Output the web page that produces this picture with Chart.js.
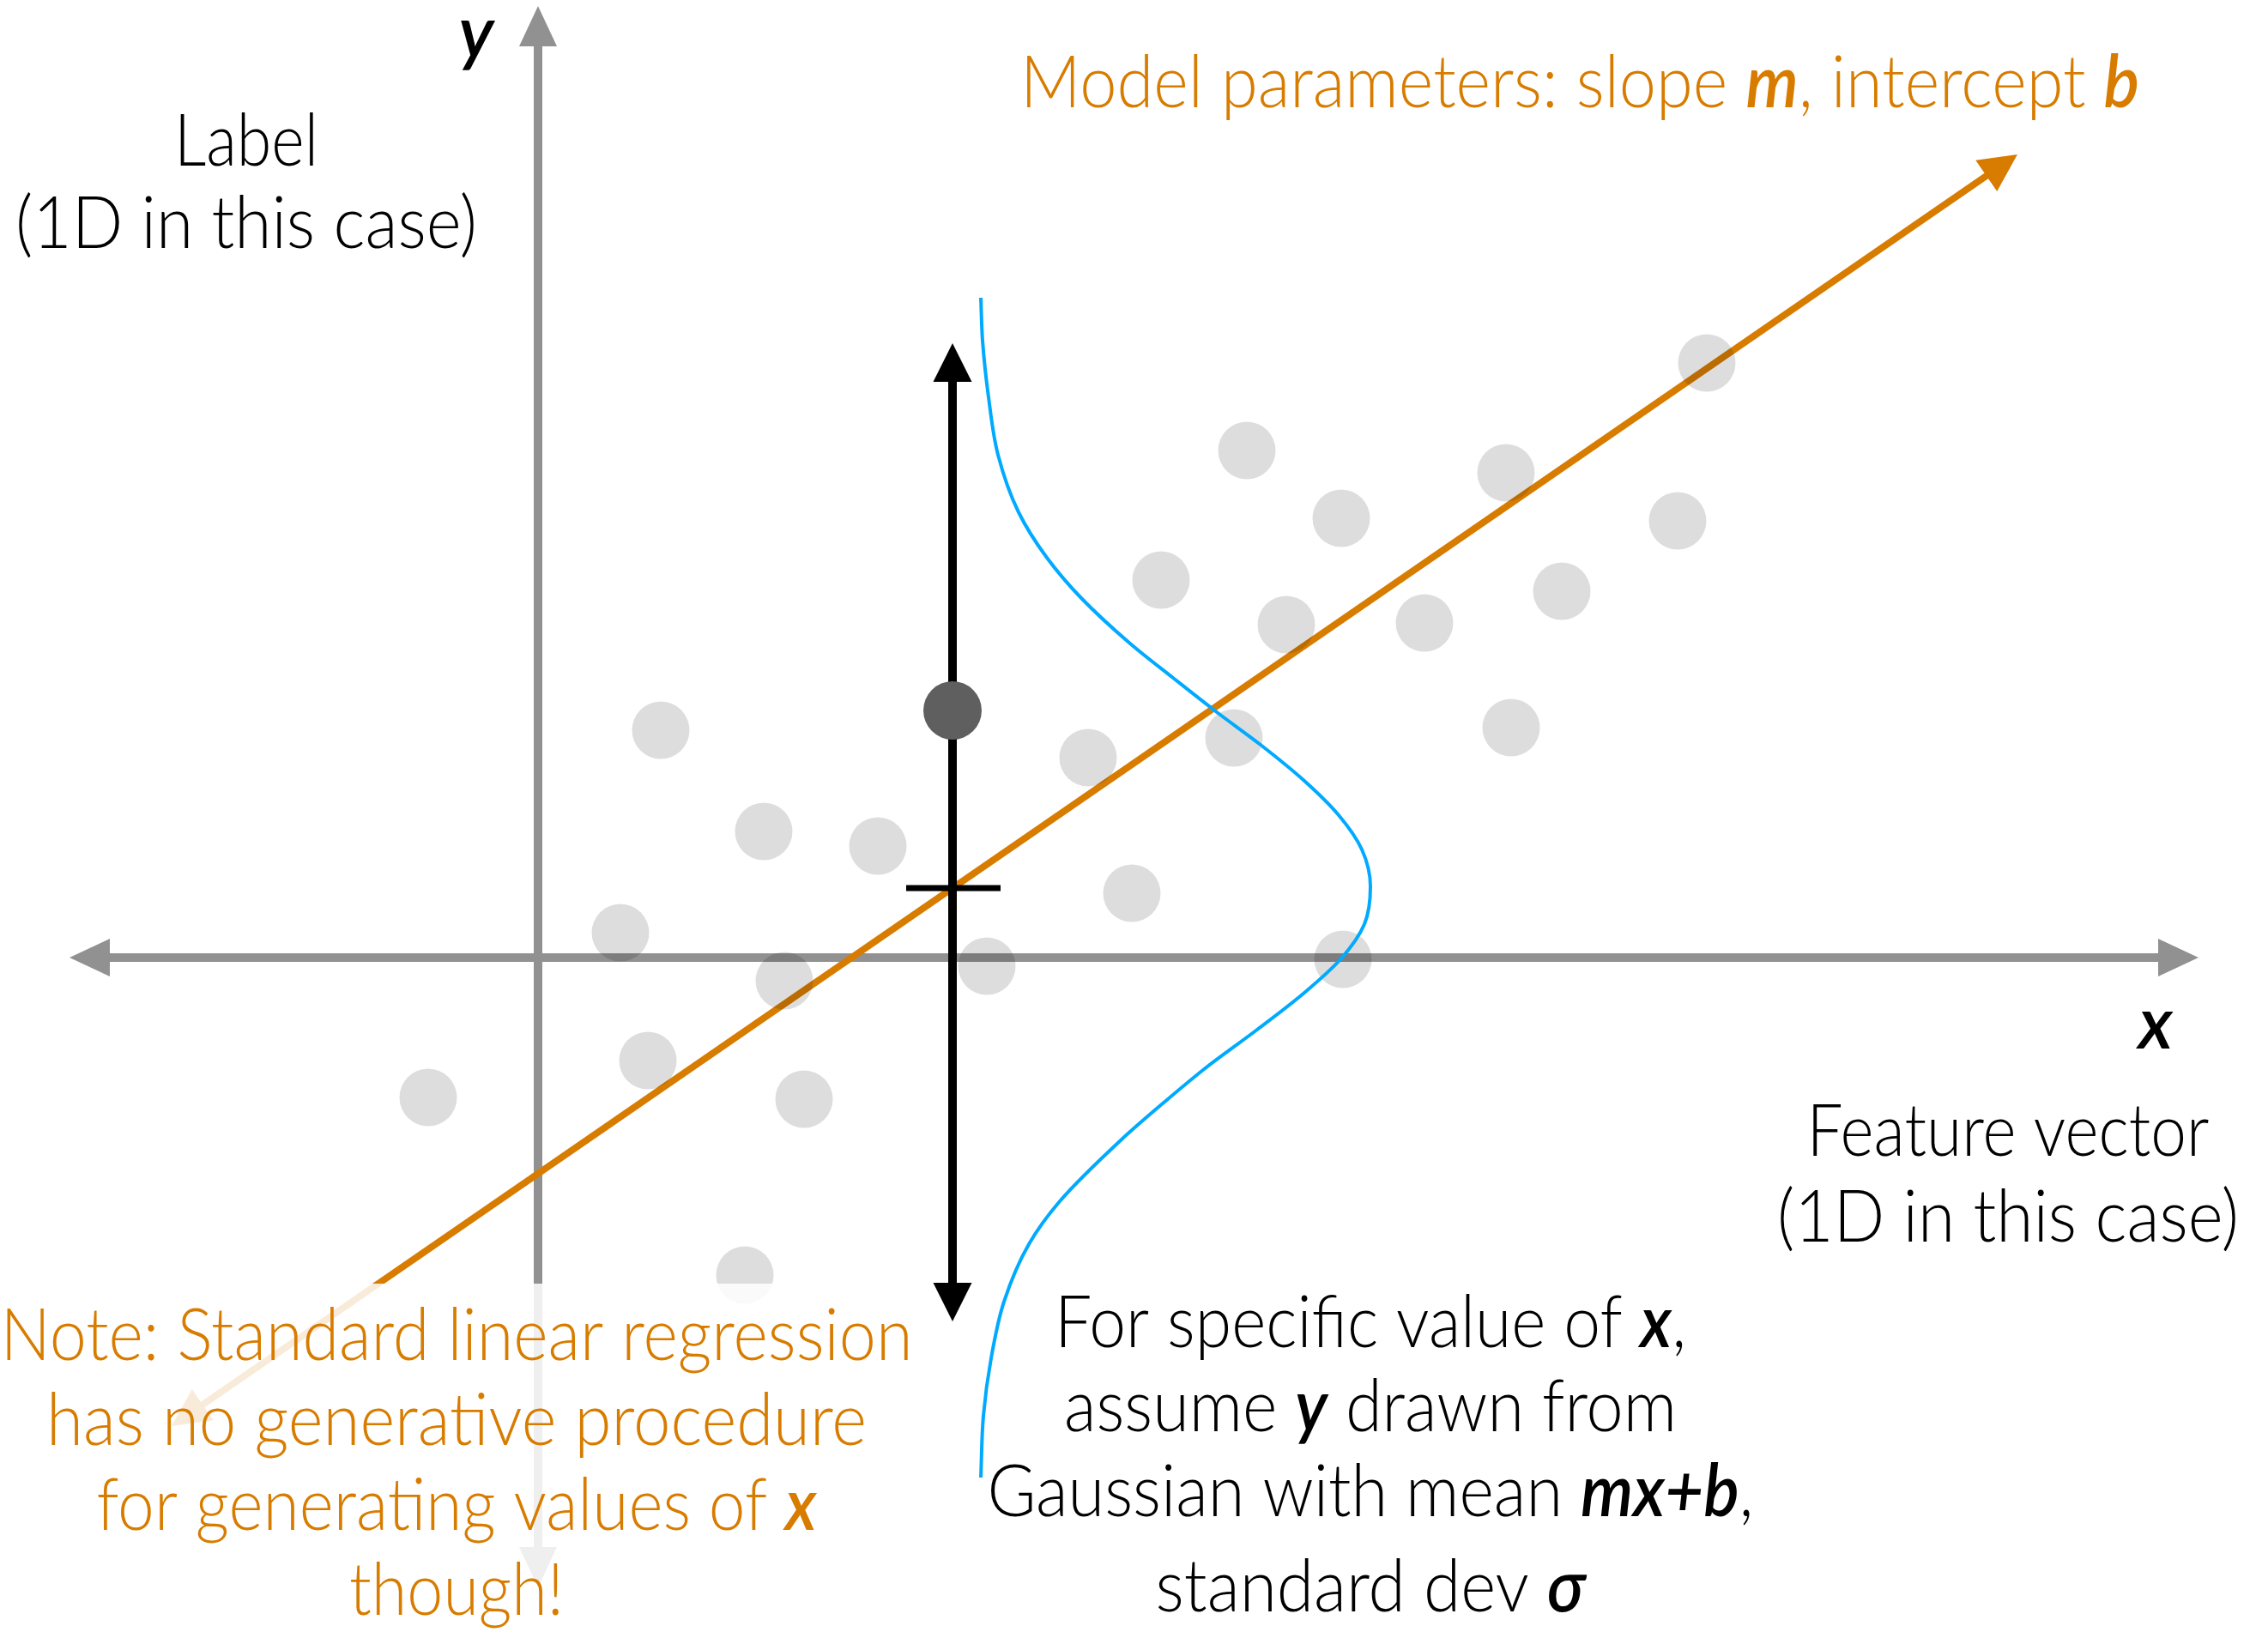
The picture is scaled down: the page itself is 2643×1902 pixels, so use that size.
<!DOCTYPE html>
<html>
<head>
<meta charset="utf-8">
<script src="https://cdn.jsdelivr.net/npm/chart.js@4.4.1/dist/chart.umd.min.js"></script>
<style>
html,body{margin:0;padding:0;background:#ffffff;overflow:hidden}
#wrap{width:2643px;height:1902px;position:relative}
canvas{display:block}
</style>
</head>
<body>
<div id="wrap"><canvas id="c" width="2643" height="1902"></canvas></div>
<script>
// ---------------- data (diagram units, origin where the axes cross) ----------------
const viewX = [-6.27, 20.16];
const viewY = [-7.86, 11.16];

const xAxisX = [-5.46, 19.35];
const xAxisY = [0, 0];
const yAxisX = [0, 0];
const yAxisY = [11.09, -7.34];

const regressionX = [-4.27, 17.24];
const regressionY = [-5.46, 9.36];

const sampleX = [1.43, 2.63, 3.96, 0.96, 2.87, 5.23, 1.28, 3.10, -1.28, 2.41, 6.41, 6.92,
                 8.11, 7.26, 8.26, 8.72, 9.36, 10.33, 11.28, 11.93, 11.34, 13.28, 13.62, 9.38];
const sampleY = [2.65, 1.47, 1.30, 0.29, -0.27, -0.10, -1.20, -1.65, -1.63, -3.70, 2.33, 0.75,
                 2.56, 4.40, 5.91, 3.88, 5.12, 3.90, 5.65, 4.27, 2.68, 5.09, 6.93, -0.02];

const observedX = [4.83];
const observedY = [2.88];

const condArrowX = [4.83, 4.83];
const condArrowY = [7.16, -4.24];

const meanTickX = [4.29, 5.39];
const meanTickY = [0.81, 0.81];

const gaussX = [5.16, 5.18, 5.25, 5.36, 5.60, 5.93, 6.33, 6.90, 7.40, 7.91, 8.42, 8.93, 9.33, 9.60, 9.70,
                9.63, 9.36, 8.93, 8.38, 7.80, 7.28, 6.80, 6.08, 5.72, 5.43, 5.28, 5.19, 5.16];
const gaussY = [7.69, 7.19, 6.53, 5.86, 5.19, 4.66, 4.19, 3.66, 3.26, 2.86, 2.48, 2.06, 1.66, 1.26, 0.83,
                0.39, -0.01, -0.41, -0.84, -1.27, -1.70, -2.12, -2.84, -3.34, -4.01, -4.67, -5.34, -6.06];

// ---------------- text ----------------
const yAxisSymbol = '*y*';
const labelLines = ['Label', '(1D in this case)'];
const xAxisSymbol = '*x*';
const featureLines = ['Feature vector', '(1D in this case)'];
const modelTitle = 'Model parameters: slope *m*, intercept *b*';
const gaussianNote = ['For specific value of *x*,', 'assume *y* drawn from', 'Gaussian with mean *mx+b*,', 'standard dev *σ*'];
const regressionNote = ['Note: Standard linear regression', 'has no generative procedure', 'for generating values of *x*', 'though!'];

// ---------------- layout / style ----------------
const ORANGE = '#d87c00';
const GRAY = '#919191';
const BLUE = '#00aaff';
const FONT_SIZE = 84;
const FONT_FAMILY = 'Lato, "Open Sans", "DejaVu Sans", sans-serif';

// text anchors in diagram units: centre x, baselines, target widths (px)
const textLayout = [
  { lines: [yAxisSymbol], x: -0.72, y: [10.49], w: [null], color: '#000' },
  { lines: labelLines, x: -3.40, y: [9.23, 8.27], w: [168, 538], color: '#000' },
  { lines: [modelTitle], x: 12.14, y: [9.91], w: [1304], color: ORANGE },
  { lines: [xAxisSymbol], x: 18.85, y: [-1.06], w: [null], color: '#000' },
  { lines: featureLines, x: 17.13, y: [-2.31, -3.31], w: [469, 538], color: '#000' },
  { lines: gaussianNote, x: 9.70, y: [-4.54, -5.52, -6.51, -7.62], w: [736, 714, 893, 501], color: '#000' },
  { lines: regressionNote, x: -0.95, y: [-4.69, -5.68, -6.67, -7.66], w: [1063, 956, 839, 250], color: ORANGE }
];
// faded box behind the note (diagram units)
const fadeBox = { x0: -6.27, x1: 4.43, y0: -3.80, y1: -7.86 };

const pts = (xs, ys) => xs.map((x, i) => ({ x: x, y: ys[i] }));

// ---------------- plugins ----------------
const arrowPlugin = {
  id: 'arrowHeads',
  beforeDatasetDraw(chart, args) {
    const ds = chart.data.datasets[args.index];
    if (!ds.arrow) return;
    const p = args.meta.data;
    const n = p.length;
    ds._saved = p.map(e => [e.x, e.y]);
    const pull = (i, j) => {
      const dx = ds._saved[j][0] - ds._saved[i][0], dy = ds._saved[j][1] - ds._saved[i][1];
      const d = Math.hypot(dx, dy);
      const k = ds.arrow.len * 0.8 / d;
      p[i].x = ds._saved[i][0] + dx * k;
      p[i].y = ds._saved[i][1] + dy * k;
    };
    pull(0, 1);
    pull(n - 1, n - 2);
  },
  afterDatasetDraw(chart, args) {
    const ds = chart.data.datasets[args.index];
    if (!ds.arrow) return;
    const p = args.meta.data;
    ds._saved.forEach((s, i) => { p[i].x = s[0]; p[i].y = s[1]; });
    const ctx = chart.ctx;
    const head = (tip, from) => {
      const dx = tip[0] - from[0], dy = tip[1] - from[1];
      const d = Math.hypot(dx, dy);
      const ux = dx / d, uy = dy / d;
      const bx = tip[0] - ux * ds.arrow.len, by = tip[1] - uy * ds.arrow.len;
      const hw = ds.arrow.hw;
      ctx.beginPath();
      ctx.moveTo(tip[0], tip[1]);
      ctx.lineTo(bx - uy * hw, by + ux * hw);
      ctx.lineTo(bx + uy * hw, by - ux * hw);
      ctx.closePath();
      ctx.fill();
    };
    ctx.save();
    ctx.fillStyle = ds.borderColor;
    const s = ds._saved;
    head(s[0], s[1]);
    head(s[s.length - 1], s[s.length - 2]);
    ctx.restore();
  }
};

const fadePlugin = {
  id: 'fade',
  afterDatasetsDraw(chart) {
    const xs = chart.scales.x, ys = chart.scales.y;
    const x0 = xs.getPixelForValue(fadeBox.x0), x1 = xs.getPixelForValue(fadeBox.x1);
    const y0 = ys.getPixelForValue(fadeBox.y0), y1 = ys.getPixelForValue(fadeBox.y1);
    const ctx = chart.ctx;
    ctx.save();
    ctx.fillStyle = 'rgba(255,255,255,0.85)';
    ctx.fillRect(x0, y0, x1 - x0, y1 - y0);
    ctx.restore();
  }
};

function parseRich(str) {
  const parts = str.split('*');
  return parts.map((t, i) => ({ t: t, em: i % 2 === 1 })).filter(s => s.t.length);
}
function fontFor(em) {
  return (em ? 'italic 600 ' : '300 ') + FONT_SIZE + 'px ' + FONT_FAMILY;
}

const textPlugin = {
  id: 'diagramText',
  afterDraw(chart) {
    const ctx = chart.ctx;
    const xs = chart.scales.x, ys = chart.scales.y;
    ctx.save();
    ctx.textBaseline = 'alphabetic';
    ctx.textAlign = 'left';
    textLayout.forEach(block => {
      const cx = xs.getPixelForValue(block.x);
      block.lines.forEach((line, li) => {
        const segs = parseRich(line);
        let W = 0;
        segs.forEach(s => { ctx.font = fontFor(s.em); s.w = ctx.measureText(s.t).width; W += s.w; });
        let sx = 1;
        if (block.w[li]) sx = Math.max(0.8, Math.min(1.2, block.w[li] / W));
        const by = ys.getPixelForValue(block.y[li]);
        ctx.save();
        ctx.translate(cx, by);
        ctx.scale(sx, 1);
        ctx.fillStyle = block.color;
        let x = -W / 2;
        segs.forEach(s => { ctx.font = fontFor(s.em); ctx.fillText(s.t, x, 0); x += s.w; });
        ctx.restore();
      });
    });
    ctx.restore();
  }
};

// ---------------- chart ----------------
const lineDs = (label, xs, ys, color, width, order, arrow) => ({
  label: label, data: pts(xs, ys), showLine: true, borderColor: color, backgroundColor: color,
  borderWidth: width, pointRadius: 0, pointHoverRadius: 0, borderCapStyle: 'butt',
  tension: 0, order: order, arrow: arrow, clip: false
});

const chart = new Chart(document.getElementById('c'), {
  type: 'scatter',
  data: {
    datasets: [
      lineDs('x axis', xAxisX, xAxisY, GRAY, 10, 10, { len: 47, hw: 22 }),
      lineDs('y axis', yAxisX, yAxisY, GRAY, 10, 10, { len: 47, hw: 22 }),
      lineDs('regression line', regressionX, regressionY, ORANGE, 8, 9, { len: 44, hw: 22 }),
      {
        label: 'samples', data: pts(sampleX, sampleY), showLine: false,
        pointRadius: 33.5, pointBorderWidth: 0, pointBackgroundColor: 'rgba(0,0,0,0.133)',
        pointHoverRadius: 33.5, order: 8, clip: false
      },
      lineDs('conditional y', condArrowX, condArrowY, '#000000', 10, 7, { len: 45, hw: 22.5 }),
      lineDs('mean tick', meanTickX, meanTickY, '#000000', 7, 7, null),
      {
        label: 'observed', data: pts(observedX, observedY), showLine: false,
        pointRadius: 34, pointBorderWidth: 0, pointBackgroundColor: '#5f5f5f',
        pointHoverRadius: 34, order: 6, clip: false
      },
      Object.assign(lineDs('gaussian', gaussX, gaussY, BLUE, 4, 5, null), {
        type: 'line', indexAxis: 'y', cubicInterpolationMode: 'monotone', fill: false,
        borderJoinStyle: 'round'
      })
    ]
  },
  options: {
    responsive: false,
    animation: false,
    devicePixelRatio: 1,
    events: [],
    layout: { padding: 0, autoPadding: false },
    plugins: { legend: { display: false }, tooltip: { enabled: false }, title: { display: false } },
    scales: {
      x: { type: 'linear', display: false, min: viewX[0], max: viewX[1] },
      y: { type: 'linear', display: false, min: viewY[0], max: viewY[1] }
    }
  },
  plugins: [arrowPlugin, fadePlugin, textPlugin]
});
if (document.fonts && document.fonts.ready) document.fonts.ready.then(() => chart.draw());
</script>
</body>
</html>
